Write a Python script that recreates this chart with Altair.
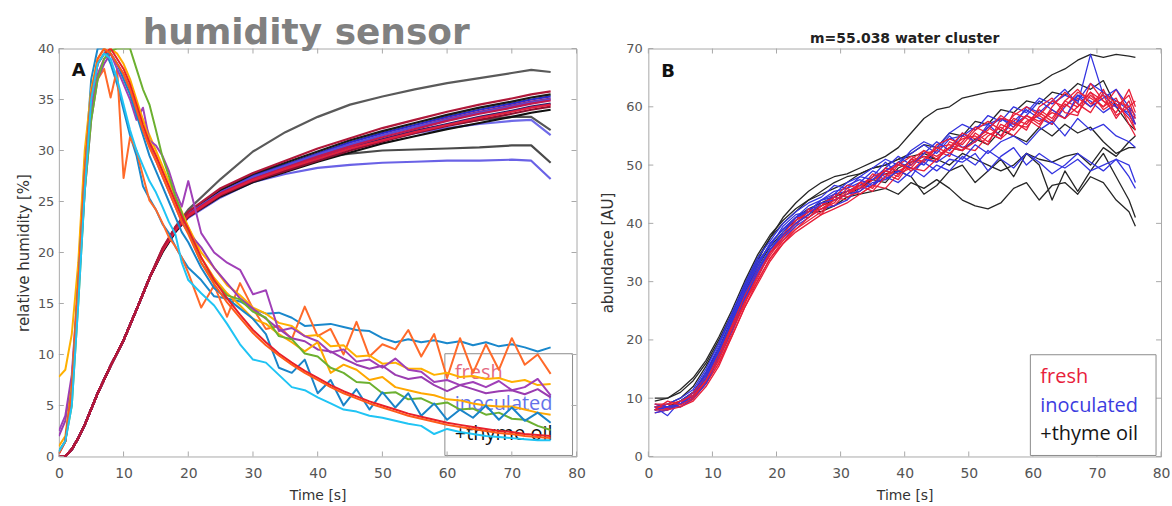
import altair as alt
import pandas as pd

# ---------------- shared ----------------
X_TICKS = [0, 10, 20, 30, 40, 50, 60, 70, 80]
A_Y_TICKS = [0, 5, 10, 15, 20, 25, 30, 35, 40]
B_Y_TICKS = [0, 10, 20, 30, 40, 50, 60, 70]
LEGEND_LABELS = ["fresh", "inoculated", "+thyme oil"]
TITLE_A = "humidity sensor"
TITLE_B = "m=55.038 water cluster"

# ---------------- Panel A : humidity rising curves ----------------
A_RISE_T = [0, 1, 2, 3, 4, 6, 8, 10, 12, 14, 16, 18, 20, 25, 30, 35, 40, 45, 50, 55, 60, 65, 70, 73, 76]
A_RISE_TOP_BLACK = [0, 0, 0.7, 1.8, 3.1, 6.2, 8.9, 11.4, 14.4, 17.5, 20.3, 22.5, 24.2, 27.2, 29.9, 31.8, 33.3, 34.5, 35.3, 36.0, 36.6, 37.1, 37.6, 37.9, 37.7]
A_RISE_LOW_BLACK = [0, 0, 0.7, 1.8, 3.1, 6.2, 8.9, 11.4, 14.4, 17.5, 20.2, 22.2, 23.7, 25.9, 27.6, 28.6, 29.3, 29.7, 30.0, 30.1, 30.2, 30.3, 30.5, 30.5, 28.8]
A_RISE_LOW_BLUE = [0, 0, 0.7, 1.8, 3.1, 6.2, 8.9, 11.4, 14.4, 17.5, 20.1, 22.0, 23.4, 25.4, 26.9, 27.7, 28.3, 28.6, 28.8, 28.9, 29.0, 29.0, 29.1, 29.0, 27.2]
A_RISE_MID_BLUE = [0, 0, 0.7, 1.8, 3.1, 6.2, 8.9, 11.4, 14.4, 17.5, 20.2, 22.1, 23.6, 25.6, 27.0, 28.0, 29.2, 30.2, 31.0, 31.7, 32.2, 32.6, 32.9, 33.0, 31.5]
A_RISE_MID_BLACK = [0, 0, 0.7, 1.8, 3.1, 6.2, 8.9, 11.4, 14.4, 17.5, 20.2, 22.2, 23.7, 25.7, 27.2, 28.2, 29.3, 30.3, 31.1, 31.9, 32.5, 33.0, 33.3, 33.3, 32.0]
A_RISE_L3 = [0, 0, 0.7, 1.8, 3.1, 6.2, 8.9, 11.4, 14.4, 17.5, 20.2, 22.3, 23.8, 26.0, 27.5, 28.6, 29.7, 30.8, 31.7, 32.5, 33.3, 34.0, 34.6, 35.0, 35.3]
A_RISE_L2 = [0, 0, 0.7, 1.8, 3.1, 6.2, 8.9, 11.4, 14.4, 17.5, 20.3, 22.4, 23.9, 26.1, 27.7, 28.8, 29.9, 31.0, 31.9, 32.7, 33.5, 34.2, 34.8, 35.2, 35.5]
A_RISE_L6 = [0, 0, 0.7, 1.8, 3.1, 6.2, 8.9, 11.4, 14.4, 17.5, 20.1, 22.1, 23.6, 25.7, 27.1, 28.1, 29.2, 30.2, 31.1, 31.9, 32.6, 33.3, 33.9, 34.3, 34.6]
A_RISE_L4 = [0, 0, 0.7, 1.8, 3.1, 6.2, 8.9, 11.4, 14.4, 17.5, 20.1, 22.2, 23.7, 25.9, 27.3, 28.4, 29.5, 30.5, 31.5, 32.3, 33.1, 33.8, 34.4, 34.8, 35.1]
A_RISE_L9 = [0, 0, 0.7, 1.8, 3.1, 6.2, 8.9, 11.4, 14.4, 17.5, 20.2, 22.3, 23.8, 25.9, 27.4, 28.5, 29.6, 30.6, 31.5, 32.3, 33.0, 33.7, 34.3, 34.7, 35.0]
A_RISE_L8 = [0, 0, 0.7, 1.8, 3.1, 6.2, 8.9, 11.4, 14.4, 17.5, 20.0, 22.0, 23.5, 25.5, 26.9, 27.9, 28.9, 29.8, 30.7, 31.4, 32.1, 32.7, 33.3, 33.7, 34.0]
A_RISE_L7 = [0, 0, 0.7, 1.8, 3.1, 6.2, 8.9, 11.4, 14.4, 17.5, 20.1, 22.1, 23.5, 25.6, 27.0, 28.0, 29.0, 30.0, 30.9, 31.7, 32.4, 33.0, 33.6, 34.0, 34.3]
A_RISE_L5 = [0, 0, 0.7, 1.8, 3.1, 6.2, 8.9, 11.4, 14.4, 17.5, 20.2, 22.2, 23.7, 25.8, 27.2, 28.3, 29.4, 30.4, 31.3, 32.1, 32.9, 33.6, 34.2, 34.6, 34.9]
A_RISE_L10 = [0, 0, 0.7, 1.8, 3.1, 6.2, 8.9, 11.4, 14.4, 17.5, 20.2, 22.2, 23.6, 25.7, 27.1, 28.2, 29.2, 30.2, 31.0, 31.8, 32.5, 33.2, 33.8, 34.2, 34.5]
A_RISE_L1 = [0, 0, 0.7, 1.8, 3.1, 6.2, 8.9, 11.4, 14.4, 17.5, 20.4, 22.5, 24.0, 26.3, 27.8, 29.0, 30.2, 31.2, 32.2, 33.0, 33.8, 34.5, 35.1, 35.5, 35.8]

A_RISE_SERIES = [A_RISE_TOP_BLACK, A_RISE_LOW_BLACK, A_RISE_LOW_BLUE, A_RISE_MID_BLUE, A_RISE_MID_BLACK,
                 A_RISE_L3, A_RISE_L2, A_RISE_L6, A_RISE_L4, A_RISE_L9, A_RISE_L8, A_RISE_L7, A_RISE_L5,
                 A_RISE_L10, A_RISE_L1]
A_RISE_COLORS = ["#5a5a5a", "#4a4a4a", "#6a62e6", "#6f6ae8", "#555555",
                 "#2a2ad0", "#1a1a1a", "#20206e", "#8a2a8a", "#5a4ad8", "#101010", "#8b1030", "#c01850",
                 "#e02040", "#b0183a"]

# ---------------- Panel A : decay curves ----------------
A_DECAY_T = [0, 1, 2, 3, 4, 5, 6, 7, 8, 9, 10, 11, 12, 13, 14, 15, 16, 17, 18, 19, 20,
             22, 24, 26, 28, 30, 32, 34, 36, 38, 40, 42, 44, 46, 48, 50, 52, 54, 56, 58, 60,
             62, 64, 66, 68, 70, 72, 74, 76]
A_BLUE_1 = [0.5, 1.5, 6, 17, 28, 37, 40, 40, 38.5, 36.5, 34, 31.5, 29.5, 26.5, 25.3, 24.2, 22.8, 21.9, 20.6, 19.5, 18.5,
            17.3, 15.7, 15.5, 15.2, 14.5, 14, 14.1, 13.6, 12.8, 12.9, 13, 12.7, 12.4, 12.3, 11.6, 11.2, 11.5, 11.2,
            11.4, 11.1, 11.3, 10.9, 11.2, 10.8, 11, 10.7, 10.3, 10.7]
A_ORANGE_1 = [0.3, 1.5, 7, 18, 29, 35, 37, 38, 35.2, 38, 27.3, 31.3, 30, 27.5, 25.1, 24.2, 22.9, 21.5, 20.6, 19.5, 18,
              14.6, 16.8, 13.7, 17, 14.5, 12.5, 12.8, 11.5, 14.7, 11.8, 12.5, 10, 13.2, 9.8, 11, 10.5, 12.4, 9.8,
              12, 7.7, 11.6, 8.2, 11, 8.5, 11.6, 9, 10, 8.1]
A_YELLOW_1 = [7.8, 8.5, 12, 19, 30, 36, 39, 40, 39.5, 38.5, 37.5, 36, 34.5, 33, 31.5, 30, 28.5, 27, 25.5, 24, 22.5,
              20, 18.5, 16.8, 15.8, 14.6, 14.0, 13.1, 12.8, 11.8, 11.9, 10.8, 10.9, 9.8, 9.9, 9.1, 9.2, 8.6, 8.6,
              8.0, 8.2, 7.8, 7.9, 7.6, 7.7, 7.3, 7.5, 7.0, 7.1]
A_PURPLE_1 = [2.5, 4, 8, 17, 27, 34, 37.5, 39, 39.5, 38, 36.5, 35, 33, 34.2, 31, 30.5, 29.5, 28, 26, 24.5, 27,
              21.9, 20, 19, 18.3, 15.9, 16.3, 12.3, 12.6, 11.8, 11.3, 10.2, 10.5, 9.3, 9.5, 8.7, 9.6, 8.5, 8.3,
              7.3, 7.5, 7.0, 7.3, 6.8, 7.4, 6.5, 6.8, 7.6, 6]
A_PURPLE_2 = [2, 3.5, 7.5, 16, 26, 33, 37, 38.5, 39.5, 38.5, 37.5, 36, 34, 32, 30.5, 29, 27.5, 26, 24.5, 23, 22,
              20.5, 18.5, 17, 15.5, 14.5, 13.5, 12.5, 11.6, 11.3, 10.5, 10.3, 9.6, 9.0, 8.6, 8.9, 8.0, 7.6, 7.8,
              7.0, 6.4, 7.0, 6.6, 6.2, 6.4, 6.5, 6.1, 6.6, 5.8]
A_YELLOW_2 = [1, 2, 7, 17, 28, 35, 38.5, 39.5, 40, 39.5, 38.5, 37, 35, 33, 31, 29.5, 28, 26.5, 25, 23.5, 22.5,
              19.5, 17.5, 16, 14.8, 13.5, 13, 12, 11.2, 10.3, 11.2, 8.2, 9.0, 8.5, 7.5, 7.8, 6.8, 6.5, 6.2,
              6, 5.6, 5.5, 5.2, 5.0, 4.9, 4.9, 4.6, 4.3, 4.1]
A_GREEN = [0.5, 1.5, 5, 15, 26, 33, 37, 39, 39.8, 40, 40, 40, 38, 36, 34.5, 32, 29.4, 27.5, 25.5, 23.9, 22,
           19, 17.2, 15.8, 15.4, 14.2, 13.6, 11.8, 11.5, 10.1, 9.8, 8.7, 8.2, 7.3, 7.2, 6.2, 6.3, 5.6, 5.7,
           5.1, 5.3, 4.6, 4.7, 4.1, 4.3, 3.7, 3.6, 3.0, 2.6]
A_BLUE_2 = [0.3, 1.5, 6.5, 17, 28, 35.5, 38.5, 39.5, 39.5, 38.5, 37, 35.5, 33.5, 31.5, 29.5, 28, 26.5, 25, 23.5, 22, 21,
            18.5, 16.5, 15.5, 14.5, 13.5, 12, 8.7, 8.2, 9.5, 6.2, 7.5, 5.0, 6.6, 4.6, 6.3, 4.8, 6.2, 4.0,
            5.2, 3.6, 4.6, 3.8, 5.0, 3.6, 4.8, 3.5, 4.3, 3.3]
A_RED = [0.3, 1.5, 6, 16, 27, 35, 38.5, 39.5, 40, 39, 38, 36.5, 34.5, 32.5, 30.8, 29.5, 28, 26.5, 25, 23.5, 22.3,
         19.5, 17.3, 15.5, 13.9, 12.4, 11.2, 10.1, 9.2, 8.4, 7.7, 7.0, 6.4, 5.9, 5.4, 5.0, 4.6, 4.2, 3.9,
         3.6, 3.3, 3.1, 2.9, 2.7, 2.5, 2.4, 2.2, 2.1, 2.0]
A_ORANGE_2 = [0.3, 1.5, 6.5, 17, 28, 35.5, 39, 40, 39.5, 38.5, 37.5, 36, 34, 32, 30.3, 29, 27.5, 26, 24.5, 23, 21.8,
              19, 16.9, 15.1, 13.6, 12.1, 10.9, 9.9, 9.0, 8.2, 7.5, 6.8, 6.2, 5.7, 5.2, 4.8, 4.4, 4.0, 3.7,
              3.4, 3.1, 2.9, 2.7, 2.5, 2.3, 2.2, 2.0, 1.9, 1.8]
A_CYAN = [0.5, 1.5, 5, 15, 26, 35, 38.5, 39.5, 39, 37, 34.5, 32, 30, 28.5, 27, 25.9, 24.5, 23, 21.8, 19, 17.3,
          16, 14.8, 13, 11, 9.5, 9.2, 8, 6.8, 6.5, 5.8, 5.2, 4.6, 4.4, 4.0, 3.8, 3.5, 3.2, 3.0,
          2.2, 2.7, 2.4, 2.2, 2.0, 1.9, 1.8, 1.7, 1.6, 1.6]

A_DECAY_SERIES = [A_BLUE_1, A_ORANGE_1, A_YELLOW_1, A_PURPLE_1, A_PURPLE_2, A_YELLOW_2,
                  A_GREEN, A_BLUE_2, A_RED, A_ORANGE_2, A_CYAN]
A_DECAY_COLORS = ["#1a88cc", "#ff6a2a", "#ffb000", "#a040b8", "#9a3cb0", "#ffa800",
                  "#6cb030", "#1a84c8", "#e8202a", "#ff5a1a", "#20c4f4"]

# ---------------- Panel B : m=55.038 water cluster ----------------
B_T = [1, 3, 5, 7, 9, 11, 13, 15, 17, 19, 21, 23, 25, 27, 29, 31, 33, 35, 37, 39,
       41, 43, 45, 47, 49, 51, 53, 55, 57, 59, 61, 63, 65, 67, 69, 71, 73, 75, 76]
B_FRESH_1 = [8.5, 8.2, 9.5, 10.2, 12.8, 16.5, 21.5, 26, 31, 34.5, 37.5, 40, 41.5, 43.5, 43, 45.5, 46, 48.5, 47.5, 50,
             49.5, 52, 52.5, 51.5, 55, 54, 56.5, 55, 58, 57, 59.5, 58, 61, 60, 62.5, 61, 60, 62, 59]
B_FRESH_2 = [8, 9, 8.5, 9.8, 12.5, 16, 21, 26.5, 30.5, 35, 37, 39.5, 42.5, 41.5, 44.5, 44, 47, 46, 49, 48,
             51, 50.5, 53, 53.5, 52.5, 55.5, 54, 57, 56, 58.5, 57, 59.5, 58, 61.5, 60, 63, 58.5, 60, 57]
B_FRESH_3 = [9, 8.5, 9, 10.5, 13, 17, 22, 27, 31.5, 35.5, 38, 41, 41, 43, 45, 44.5, 45.5, 47.5, 48.5, 47.5,
             50.5, 51.5, 50.5, 54, 53, 52.5, 55, 56.5, 55, 57.5, 58.5, 57, 60.5, 59, 62, 60, 61.5, 57, 55]
B_FRESH_4 = [7.5, 8, 9, 11, 13.5, 17.5, 22.5, 27.5, 32, 35, 37.5, 40.5, 42, 42.5, 43.5, 46, 45, 46.5, 49.5, 49,
             50, 52.5, 51, 53, 54.5, 55, 53.5, 58, 57.5, 56, 60, 61.5, 59, 58.5, 64, 61, 59, 63, 60]
B_FRESH_5 = [8, 9.5, 8.8, 10, 13, 16.8, 21.8, 26.5, 30, 34, 37, 39, 40.5, 42, 44, 45, 46.5, 45.5, 48, 50.5,
             49, 51, 53, 52, 54, 56.5, 55.5, 54.5, 59, 58, 56.5, 60, 62.5, 60.5, 59, 62.5, 60.5, 58, 56]
B_FRESH_6 = [8.5, 8.5, 9, 10, 12.5, 16, 20.5, 25.5, 30, 34, 36.5, 39, 41, 42.5, 44, 45, 47, 47.5, 49, 50,
             51.5, 50.5, 53.5, 54.5, 53.5, 56, 57.5, 56, 58.5, 60, 58.5, 61, 60, 62.5, 61.5, 60, 63, 59, 56]
B_FRESH_7 = [9, 9, 9.5, 10.5, 13, 17, 22, 26.5, 31, 35, 38, 40, 42, 43, 44.5, 46.5, 46, 48, 49, 48.5,
             51, 52.5, 51.5, 53, 55.5, 54.5, 56, 58.5, 57, 56.5, 59, 57.5, 61, 63, 60.5, 62, 58, 61, 58]
B_FRESH_8 = [8, 8, 8.5, 9.5, 12, 15.5, 20.5, 25.5, 29.5, 33.5, 36.5, 38.5, 40, 41.5, 42.5, 43.5, 45, 46.5, 46, 48.5,
             49.5, 49, 51, 53, 52.5, 54, 55.5, 54.5, 56.5, 58.5, 57.5, 59, 58, 60, 62.5, 59.5, 61, 60, 61]
B_INOC_1 = [8, 8, 9.5, 10.5, 14, 18, 23.5, 28.5, 33, 36.5, 39, 40.5, 42.5, 43, 45, 45.5, 46.5, 48, 50.5, 48.5,
            51, 50, 52.5, 55, 53, 54, 57, 55, 57.5, 59.5, 58, 57, 60, 62, 61, 59, 60.5, 58.5, 57]
B_INOC_2 = [8.5, 7, 9.5, 11, 14.5, 19, 24, 29, 33.5, 36, 39.5, 41.5, 42, 44, 45.5, 46, 47, 49, 48, 50.5,
            52, 53.5, 52, 54.5, 55, 56.5, 57, 58, 56.5, 60, 59, 61, 63, 60.5, 69, 62, 60, 59, 58]
B_INOC_3 = [8, 8.5, 8.5, 10, 13, 17, 22, 27, 31, 35, 37.5, 39.5, 41, 42.5, 43, 44, 46, 46.5, 48, 47,
            49, 50.5, 49, 51, 50.5, 52, 49, 51.5, 53, 50, 52, 50.5, 49.5, 51, 49, 50, 51, 48, 46]
B_INOC_4 = [9, 8.5, 9, 11, 14, 18.5, 23, 28.5, 32.5, 36.5, 39, 41, 43, 44, 45, 47, 48, 47.5, 49.5, 51.5,
            50, 52, 54, 52.5, 55.5, 54, 56.5, 58, 57, 58.5, 61, 59.5, 58, 62, 60, 61.5, 63, 60, 58.5]
B_INOC_5 = [7.5, 8, 9, 10, 12.5, 17, 21.5, 27, 31.5, 35.5, 38, 40, 41.5, 43.5, 44, 45, 45.5, 47, 47.5, 49,
            48, 51, 50.5, 52, 51, 53.5, 52, 54, 55, 53.5, 56, 57.5, 55, 58, 56, 57, 55, 54, 53]
B_INOC_6 = [8.5, 9, 10, 11.5, 15, 19.5, 24.5, 29.5, 34, 37, 40, 42, 43.5, 44.5, 46.5, 46, 48, 49.5, 51, 50,
            52.5, 54, 53, 55.5, 57, 56, 58.5, 57.5, 60, 59, 61.5, 60.5, 62, 61, 64, 62.5, 61, 59.5, 57]
B_INOC_7 = [8, 8.5, 9, 10.5, 13.5, 18, 23, 28, 32, 35.5, 38.5, 41, 42, 44, 44.5, 46.5, 47.5, 46.5, 49, 50.5,
            49.5, 48, 50, 49, 51.5, 50, 52.5, 51, 49.5, 52, 50.5, 48.5, 50, 52, 50.5, 49, 51, 50, 47]
B_THYME_1 = [9.5, 10, 11, 13, 16, 20, 24.5, 29, 33.5, 37.5, 41, 43.5, 45.5, 47, 48, 48.5, 49.5, 50.5, 51.5, 53,
             55.5, 58, 59.5, 60, 61.5, 62, 62.5, 62.8, 63, 63.5, 64, 65.5, 66.5, 68, 69, 68.5, 69, 68.7, 68.5]
B_THYME_2 = [8.5, 8.5, 9.5, 11, 14, 18, 23, 28, 32.5, 36, 38.5, 40.5, 42, 42, 43, 44.5, 45, 45.5, 46, 45,
             47, 46, 47.5, 46, 44, 43, 42.5, 43.5, 46, 47, 44, 46.5, 47, 45, 48, 47, 44, 42, 39.5]
B_THYME_3 = [8, 8.5, 9.5, 11, 14.5, 18.5, 23.5, 28.5, 33, 36.5, 39, 41, 42.5, 43.5, 44.5, 45.5, 46.5, 47.5, 48.5, 49,
             48, 45, 46.5, 49, 50, 47, 49, 51, 48, 52, 50, 44, 49, 45.5, 49, 52, 48, 44, 41]
B_THYME_4 = [8.5, 9, 10, 12, 15.5, 19.5, 24, 29.5, 34, 37.5, 40, 42, 44, 45.5, 47, 48, 48.5, 49.5, 50, 51,
             52, 53.5, 53, 55.5, 55, 57.5, 57, 59.5, 59, 61, 60.5, 62.5, 62, 64, 63, 64.5, 60, 57, 56]
B_THYME_5 = [8, 8.5, 9, 10.5, 13.5, 17.5, 22.5, 27.5, 32, 35.5, 38, 40, 41.5, 43, 44, 45, 46, 47.5, 47, 49.5,
             50.5, 51.5, 51, 53, 52.5, 54.5, 53.5, 56, 55, 54, 56.5, 55, 57, 55.5, 56.5, 54, 52, 53, 53]
B_THYME_6 = [10, 10, 11.5, 13.5, 16.5, 20.5, 25, 30, 34.5, 38, 40.5, 42.5, 44, 45, 46, 47, 48.5, 49.5, 50, 51,
             51.5, 52, 51, 50, 52, 51, 50, 49, 50, 52, 51, 50.5, 51.5, 52, 50, 53, 51.5, 54, 55]

B_SERIES = [B_THYME_1, B_THYME_2, B_THYME_3, B_THYME_4, B_THYME_5, B_THYME_6,
            B_INOC_1, B_FRESH_1, B_INOC_2, B_FRESH_2, B_INOC_3, B_FRESH_3, B_INOC_6, B_FRESH_6,
            B_INOC_4, B_FRESH_4, B_INOC_7, B_FRESH_7, B_INOC_5, B_FRESH_5, B_FRESH_8]
B_GROUPS = ["thyme", "thyme", "thyme", "thyme", "thyme", "thyme",
            "inoc", "fresh", "inoc", "fresh", "inoc", "fresh", "inoc", "fresh",
            "inoc", "fresh", "inoc", "fresh", "inoc", "fresh", "fresh"]
B_GROUP_COLORS = {"fresh": "#e8203a", "inoc": "#3434e0", "thyme": "#262626"}

# ---------------- geometry ----------------
A_W, A_H = 519, 409
B_W, B_H = 514, 409
FRAME = "#a9a9a9"
LABEL_C = "#555555"
TITLE_C = "#333333"


def long_df(times, series, colors):
    rows = []
    for i, (vals, col) in enumerate(zip(series, colors)):
        for t, v in zip(times, vals):
            rows.append({"s": f"s{i:02d}", "c": col, "t": t, "v": v})
    return pd.DataFrame(rows)


XS = alt.Scale(domain=[0, 80], nice=False, zero=False)
YS_A = alt.Scale(domain=[0, 40], nice=False, zero=False)
YS_B = alt.Scale(domain=[0, 70], nice=False, zero=False)


def x_axis():
    return alt.Axis(values=X_TICKS, title="Time [s]", ticks=False, domain=False, grid=False,
                    labelPadding=10, titlePadding=8, labelFont="DejaVu Sans", labelFontSize=14,
                    labelColor=LABEL_C, titleFont="DejaVu Sans", titleFontSize=14,
                    titleFontWeight="normal", titleColor=TITLE_C, labelFlush=False, labelOverlap=False)


def y_axis(values, title, lpad, tpad):
    return alt.Axis(values=values, title=title, ticks=False, domain=False, grid=False,
                    labelPadding=lpad, titlePadding=tpad, labelFont="DejaVu Sans", labelFontSize=13,
                    labelColor=LABEL_C, titleFont="DejaVu Sans", titleFontSize=15,
                    titleFontWeight="normal", titleColor=TITLE_C, labelFlush=False, labelOverlap=False)


def inner_ticks(xticks, yticks, ys, yax, w, h, ln=5):
    dx = pd.DataFrame({"t": xticks})
    dy = pd.DataFrame({"v": yticks})
    st = dict(color=FRAME, strokeWidth=1)
    bot = alt.Chart(dx).mark_rule(**st).encode(x=alt.X("t:Q", scale=XS, axis=x_axis()),
                                               y=alt.value(h - ln), y2=alt.value(h))
    top = alt.Chart(dx).mark_rule(**st).encode(x=alt.X("t:Q", scale=XS, axis=x_axis()),
                                               y=alt.value(0), y2=alt.value(ln))
    left = alt.Chart(dy).mark_rule(**st).encode(y=alt.Y("v:Q", scale=ys, axis=yax),
                                                x=alt.value(0), x2=alt.value(ln))
    right = alt.Chart(dy).mark_rule(**st).encode(y=alt.Y("v:Q", scale=ys, axis=yax),
                                                 x=alt.value(w - ln), x2=alt.value(w))
    return [bot, top, left, right]


def text_at(txt, x, y, size, color, weight="normal", font="Open Sans", opacity=1.0, align="left"):
    return alt.Chart(pd.DataFrame({"label": [txt]})).mark_text(
        align=align, baseline="alphabetic", font=font, fontSize=size, fontWeight=weight,
        color=color, opacity=opacity).encode(x=alt.value(x), y=alt.value(y), text="label:N")


def box_at(x1, x2, y1, y2, fill_opacity):
    return alt.Chart(pd.DataFrame({"k": [0]})).mark_rect(
        fill="white", fillOpacity=fill_opacity, stroke="#8c8c8c", strokeWidth=1).encode(
        x=alt.value(x1), x2=alt.value(x2), y=alt.value(y1), y2=alt.value(y2))


# ---------------- Panel A ----------------
YAX_A = y_axis(A_Y_TICKS, "relative humidity [%]", 5, 6)
rise_df = long_df(A_RISE_T, A_RISE_SERIES, A_RISE_COLORS)
decay_df = long_df(A_DECAY_T, A_DECAY_SERIES, A_DECAY_COLORS)

rise = alt.Chart(rise_df).mark_line(strokeWidth=2.2, clip=True, strokeJoin="round").encode(
    x=alt.X("t:Q", scale=XS, axis=x_axis()),
    y=alt.Y("v:Q", scale=YS_A, axis=YAX_A),
    color=alt.Color("c:N", scale=None),
    detail="s:N",
)
decay = alt.Chart(decay_df).mark_line(strokeWidth=2, clip=True, strokeJoin="round").encode(
    x=alt.X("t:Q", scale=XS, axis=x_axis()),
    y=alt.Y("v:Q", scale=YS_A, axis=YAX_A),
    color=alt.Color("c:N", scale=None),
    detail="s:N",
)

a_layers = [
    box_at(387, 515, 306, 408, 0),
    text_at(LEGEND_LABELS[0], 397, 331, 20, "#e0506c", opacity=0.85),
    text_at(LEGEND_LABELS[1], 397, 362, 20, "#4a5ae6", opacity=0.85),
    text_at(LEGEND_LABELS[2], 397, 392, 20, "#111111"),
    rise,
    decay,
] + inner_ticks(X_TICKS, A_Y_TICKS, YS_A, YAX_A, A_W, A_H) + [
    text_at("A", 13, 28, 18, "#111111", weight="bold", font="DejaVu Sans"),
    text_at(TITLE_A, 248, -5, 36, "#808080", weight="bold", font="DejaVu Sans", align="center"),
]

panel_a = alt.layer(*a_layers).properties(width=A_W, height=A_H)

# ---------------- Panel B ----------------
YAX_B = y_axis(B_Y_TICKS, "abundance [AU]", 6, 10)
b_df = long_df(B_T, B_SERIES, [B_GROUP_COLORS[g] for g in B_GROUPS])
b_lines = alt.Chart(b_df).mark_line(strokeWidth=1.3, clip=True, strokeJoin="round").encode(
    x=alt.X("t:Q", scale=XS, axis=x_axis()),
    y=alt.Y("v:Q", scale=YS_B, axis=YAX_B),
    color=alt.Color("c:N", scale=None),
    detail="s:N",
)

b_layers = [b_lines] + inner_ticks(X_TICKS, B_Y_TICKS, YS_B, YAX_B, B_W, B_H) + [
    box_at(383, 509, 307, 408, 1),
    text_at(LEGEND_LABELS[0], 393, 335, 20, B_GROUP_COLORS["fresh"]),
    text_at(LEGEND_LABELS[1], 393, 364, 20, "#3c3ce0"),
    text_at(LEGEND_LABELS[2], 393, 392, 20, "#151515"),
    text_at("B", 13, 29, 18, "#111111", weight="bold", font="DejaVu Sans"),
    text_at(TITLE_B, 257, -6, 14, "#222222", weight="bold", font="DejaVu Sans", align="center"),
]

panel_b = alt.layer(*b_layers).properties(width=B_W, height=B_H)

chart = alt.hconcat(panel_a, panel_b, spacing=72, bounds="flush").properties(
    padding={"left": 15, "top": 13, "right": 1, "bottom": 2},
    background="white",
).configure_view(stroke=FRAME, strokeWidth=1)

chart.save("out.html", embed_options={"renderer": "svg", "actions": False})
